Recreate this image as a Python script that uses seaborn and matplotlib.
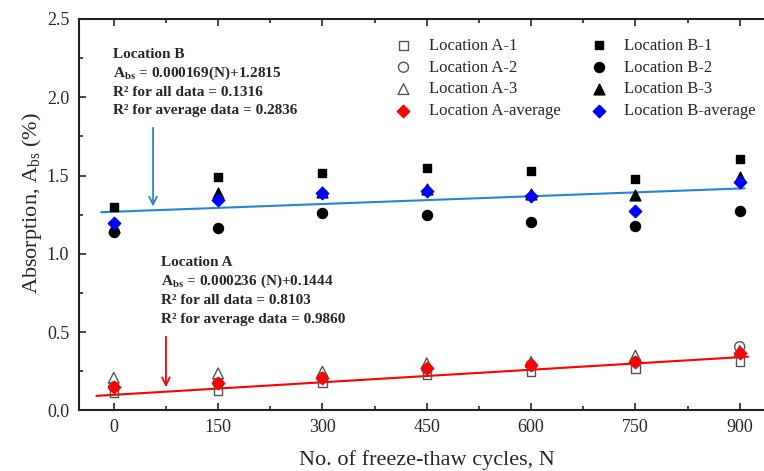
import numpy as np
import matplotlib
matplotlib.use("Agg")
import matplotlib.pyplot as plt
import seaborn as sns
import pandas as pd

# data
cycles = [0, 150, 300, 450, 600, 750, 900]

loc_a1 = [0.110, 0.127, 0.174, 0.227, 0.248, 0.263, 0.312]
loc_a2 = [0.150, 0.175, 0.210, 0.265, 0.290, 0.310, 0.407]
loc_a3 = [0.209, 0.237, 0.248, 0.301, 0.310, 0.350, 0.380]
loc_a_avg = [0.152, 0.178, 0.210, 0.270, 0.290, 0.312, 0.369]

loc_b1 = [1.297, 1.489, 1.519, 1.550, 1.529, 1.476, 1.604]
loc_b2 = [1.138, 1.163, 1.259, 1.246, 1.202, 1.180, 1.274]
loc_b3 = [1.170, 1.387, 1.395, 1.416, 1.385, 1.376, 1.490]
loc_b_avg = [1.200, 1.346, 1.391, 1.404, 1.372, 1.276, 1.457]

# fitted lines as drawn (slope, intercept, x range)
fit_a = (0.000267, 0.100)
fit_a_range = [-25, 912]
fit_b = (0.000165, 1.269)
fit_b_range = [-18, 907]

sns.set_style("ticks")
plt.rcParams["font.family"] = ["Liberation Serif", "DejaVu Serif"]
plt.rcParams["mathtext.fontset"] = "custom"
plt.rcParams["mathtext.rm"] = "Liberation Serif"
plt.rcParams["mathtext.bf"] = "Liberation Serif:bold"

fig = plt.figure(figsize=(7.64, 4.71), dpi=100)
ax = fig.add_axes([0.1034, 0.1285, 0.9103, 0.8312])

# regression lines
for (m, b), xr, col in [(fit_a, fit_a_range, "#ff0000"), (fit_b, fit_b_range, "#2a82d4")]:
    xs = np.array(xr, dtype=float)
    sns.lineplot(x=xs, y=m * xs + b, color=col, lw=1.5, ax=ax, zorder=2)

grey = "#555555"
series = [
    (loc_a1, "Location A-1", "s", "none", grey, 36),
    (loc_a2, "Location A-2", "o", "none", grey, 52),
    (loc_a3, "Location A-3", "^", "none", grey, 60),
    (loc_a_avg, "Location A-average", "D", "#ff0000", "#ff0000", 40),
    (loc_b1, "Location B-1", "s", "black", "black", 36),
    (loc_b2, "Location B-2", "o", "black", "black", 52),
    (loc_b3, "Location B-3", "^", "black", "black", 60),
    (loc_b_avg, "Location B-average", "D", "#0000ff", "#0000ff", 40),
]
for i, (vals, lab, mk, fc, ec, sz) in enumerate(series):
    df = pd.DataFrame({"N": cycles, "Abs": vals})
    sns.scatterplot(data=df, x="N", y="Abs", marker=mk, s=sz, facecolor=fc,
                    edgecolor=ec, linewidth=1.0, label=lab, ax=ax, zorder=3 + i % 4)

ax.set_xlim(-50, 950)
ax.set_ylim(0, 2.5)
ax.set_xticks(cycles)
ax.set_xticks(np.arange(75, 900, 150), minor=True)
ax.set_yticks([0.0, 0.5, 1.0, 1.5, 2.0, 2.5])
ax.set_yticks([0.25, 0.75, 1.25, 1.75, 2.25], minor=True)
ax.set_yticklabels(["0.0", "0.5", "1.0", "1.5", "2.0", "2.5"])
ax.tick_params(which="both", direction="in", top=True, right=False, width=1.2, labelsize=13)
ax.tick_params(which="major", length=5)
ax.tick_params(which="minor", length=3)
ax.tick_params(axis="y", pad=7)
ax.tick_params(axis="x", pad=6)
for sp in ax.spines.values():
    sp.set_linewidth(1.5)
    sp.set_color("#222222")

ax.set_xlabel("No. of freeze-thaw cycles, N", fontsize=16)
ax.set_ylabel(r"Absorption, A$_{\mathrm{bs}}$ (%)", fontsize=16)
ax.xaxis.set_label_coords(0.5, -0.1)
ax.yaxis.set_label_coords(-0.05, 0.53)

leg = ax.legend(ncol=2, loc="upper left", bbox_to_anchor=(0.4486, 0.952), frameon=False,
                borderaxespad=0, borderpad=0, fontsize=12, handlelength=1.5,
                handletextpad=0.8, columnspacing=1.5, labelspacing=0.35)

# annotation blocks
txt_b = ["Location B", r"A$_{\mathbf{bs}}$ = 0.000169(N)+1.2815",
         "R² for all data = 0.1316", "R² for average data = 0.2836"]
txt_a = ["Location A", r"A$_{\mathbf{bs}}$ = 0.000236 (N)+0.1444",
         "R² for all data = 0.8103", "R² for average data = 0.9860"]
for i, t in enumerate(txt_b):
    ax.text(-1, 2.270 - i * 0.119, t, fontsize=11, fontweight="bold", va="center", ha="left")
for i, t in enumerate(txt_a):
    ax.text(68.6, 0.944 - i * 0.120, t, fontsize=11, fontweight="bold", va="center", ha="left")

ax.annotate("", xy=(56.5, 1.285), xytext=(56.5, 1.823),
            arrowprops=dict(arrowstyle="->", color="#2a82d4", lw=1.3, mutation_scale=14))
ax.annotate("", xy=(75, 0.131), xytext=(75, 0.489),
            arrowprops=dict(arrowstyle="->", color="#ff0000", lw=1.3, mutation_scale=14))

fig.savefig("out.png", dpi=100)
